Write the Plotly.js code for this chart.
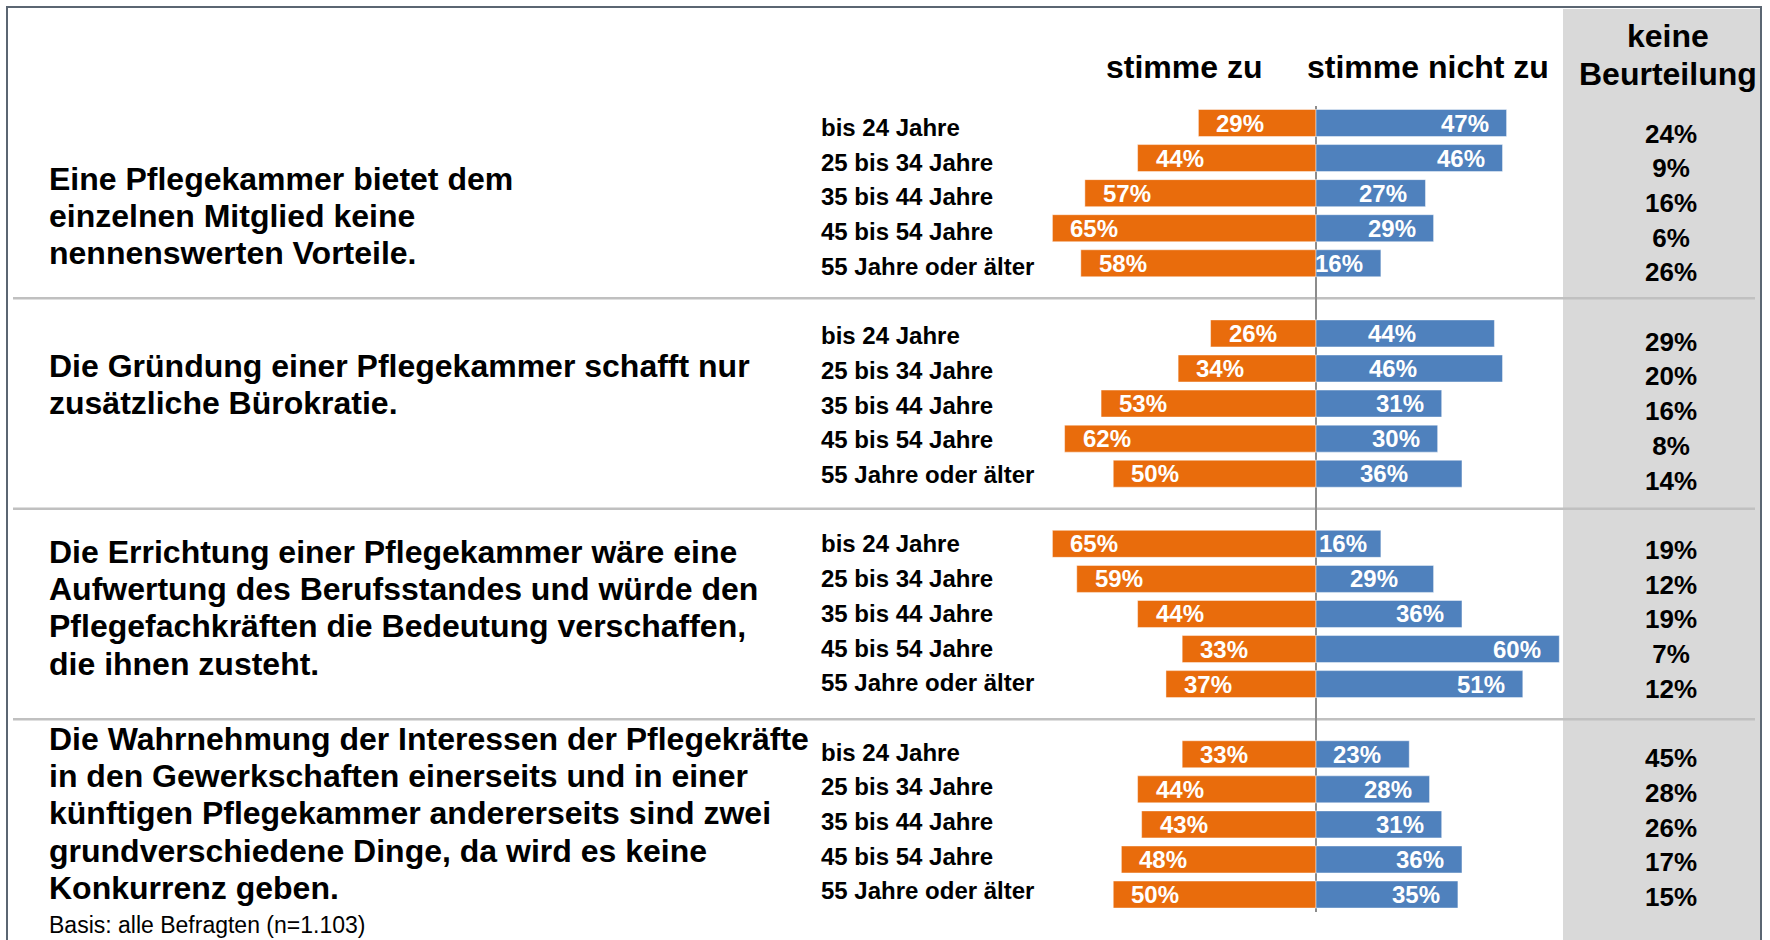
<!DOCTYPE html>
<html>
<head>
<meta charset="utf-8">
<script src="https://cdn.plot.ly/plotly-3.0.1.min.js"></script>
<style>html,body{margin:0;padding:0;background:#fff;}#chart{width:1770px;height:940px;}</style>
</head>
<body>
<div id="chart"></div>
<script>
// ---------- DATA ----------
const ageGroups = ['bis 24 Jahre', '25 bis 34 Jahre', '35 bis 44 Jahre', '45 bis 54 Jahre', '55 Jahre oder älter'];
const statements = [
  ['Eine Pflegekammer bietet dem', 'einzelnen Mitglied keine', 'nennenswerten Vorteile.'],
  ['Die Gründung einer Pflegekammer schafft nur', 'zusätzliche Bürokratie.'],
  ['Die Errichtung einer Pflegekammer wäre eine', 'Aufwertung des Berufsstandes und würde den', 'Pflegefachkräften die Bedeutung verschaffen,', 'die ihnen zusteht.'],
  ['Die Wahrnehmung der Interessen der Pflegekräfte', 'in den Gewerkschaften einerseits und in einer', 'künftigen Pflegekammer andererseits sind zwei', 'grundverschiedene Dinge, da wird es keine', 'Konkurrenz geben.']
];
const stimmeZu = [
  [29, 44, 57, 65, 58],
  [26, 34, 53, 62, 50],
  [65, 59, 44, 33, 37],
  [33, 44, 43, 48, 50]
];
const stimmeNichtZu = [
  [47, 46, 27, 29, 16],
  [44, 46, 31, 30, 36],
  [16, 29, 36, 60, 51],
  [23, 28, 31, 36, 35]
];
const keineBeurteilung = [
  [24, 9, 16, 6, 26],
  [29, 20, 16, 8, 14],
  [19, 12, 19, 7, 12],
  [45, 28, 26, 17, 15]
];
const headerZu = 'stimme zu';
const headerNicht = 'stimme nicht zu';
const headerKeine = ['keine', 'Beurteilung'];
const footnote = 'Basis: alle Befragten (n=1.103)';

// ---------- LAYOUT HELPERS ----------
const W = 1770, H = 940;
const px = v => v / W;
const py = v => 1 - v / H;
const FONT = 'Liberation Sans, Arial, Helvetica, sans-serif';
const ORANGE = '#E96C0C', BLUE = '#4F81BD';
const GROUP_STRIDE = ageGroups.length + 1;   // one empty slot between groups

// label nudges for blue value labels (pixel shift from bar end), default -16
const blueNudge = {'1-0': -76, '1-1': -84, '1-4': -52, '2-0': -12, '2-1': -34, '3-0': -26};

const yPos = [], zu = [], nicht = [], keine = [], cat = [];
statements.forEach((s, g) => {
  ageGroups.forEach((a, r) => {
    yPos.push(g * GROUP_STRIDE + r);
    zu.push(-stimmeZu[g][r]);
    nicht.push(stimmeNichtZu[g][r]);
    keine.push(keineBeurteilung[g][r] + '%');
    cat.push('keine Beurteilung');
  });
});

const barLine = {color: 'rgba(255,255,255,0.45)', width: 1};
const traces = [
  {type: 'bar', orientation: 'h', x: zu, y: yPos, width: 0.77,
   marker: {color: ORANGE, line: barLine}, hoverinfo: 'skip', xaxis: 'x', yaxis: 'y'},
  {type: 'bar', orientation: 'h', x: nicht, y: yPos, width: 0.77,
   marker: {color: BLUE, line: barLine}, hoverinfo: 'skip', xaxis: 'x', yaxis: 'y'},
  {type: 'scatter', mode: 'text', x: cat, y: yPos, text: keine,
   textposition: 'middle center', cliponaxis: false,
   textfont: {family: FONT, size: 26, color: '#000', weight: 'bold'},
   hoverinfo: 'skip', xaxis: 'x2', yaxis: 'y2'}
];

const annotations = [];
// bar value labels
statements.forEach((s, g) => {
  ageGroups.forEach((a, r) => {
    const k = g * GROUP_STRIDE + r;
    annotations.push({xref: 'x', yref: 'y', x: -stimmeZu[g][r], y: k, xanchor: 'left', yanchor: 'middle',
      xshift: 16, showarrow: false, text: stimmeZu[g][r] + '%',
      font: {family: FONT, size: 24, color: '#fff', weight: 'bold'}});
    const nk = blueNudge[g + '-' + r];
    annotations.push({xref: 'x', yref: 'y', x: stimmeNichtZu[g][r], y: k, xanchor: 'right', yanchor: 'middle',
      xshift: nk === undefined ? -16 : nk, showarrow: false, text: stimmeNichtZu[g][r] + '%',
      font: {family: FONT, size: 24, color: '#fff', weight: 'bold'}});
    // row label
    annotations.push({xref: 'paper', yref: 'y2', x: px(819), y: k, xanchor: 'left', yanchor: 'middle',
      yshift: 8.5, showarrow: false, text: a,
      font: {family: FONT, size: 24, color: '#000', weight: 'bold'}});
  });
});
// statements
const stmtTop = [178.6, 365.6, 551.6, 738.6];
const stmtLine = 37.3;
statements.forEach((lines, g) => {
  lines.forEach((t, i) => {
    annotations.push({xref: 'paper', yref: 'paper', x: px(47), y: py(stmtTop[g] + i * stmtLine),
      xanchor: 'left', yanchor: 'middle', showarrow: false, text: t,
      font: {family: FONT, size: 32, color: '#000', weight: 'bold'}});
  });
});
// headers
annotations.push({xref: 'paper', yref: 'paper', x: px(1183.5), y: py(67), xanchor: 'center', yanchor: 'middle',
  showarrow: false, text: headerZu, font: {family: FONT, size: 32, color: '#000', weight: 'bold'}});
annotations.push({xref: 'paper', yref: 'paper', x: px(1428), y: py(67), xanchor: 'center', yanchor: 'middle',
  showarrow: false, text: headerNicht, font: {family: FONT, size: 32, color: '#000', weight: 'bold'}});
headerKeine.forEach((t, i) => {
  annotations.push({xref: 'paper', yref: 'paper', x: px(1668), y: py(36.3 + i * 38), xanchor: 'center', yanchor: 'middle',
    showarrow: false, text: t, font: {family: FONT, size: 32, color: '#000', weight: 'bold'}});
});
annotations.push({xref: 'paper', yref: 'paper', x: px(47), y: py(925), xanchor: 'left', yanchor: 'middle',
  showarrow: false, text: footnote, font: {family: FONT, size: 23, color: '#000'}});

const shapes = [
  {type: 'rect', xref: 'paper', yref: 'paper', x0: px(1563), x1: px(1760), y0: -0.02, y1: py(9),
   fillcolor: '#D9D9D9', line: {width: 0}, layer: 'below'}
];
for (let g = 1; g < statements.length; g++) {
  const ySep = g * GROUP_STRIDE - 1;
  shapes.push({type: 'line', xref: 'paper', yref: 'y', x0: px(13), x1: px(1755), y0: ySep, y1: ySep,
    line: {color: '#C0C0C0', width: 2.5}, layer: 'below'});
}
shapes.push({type: 'rect', xref: 'paper', yref: 'paper', x0: px(7), x1: px(1761), y0: -0.05, y1: py(7),
  line: {color: '#5B6672', width: 2}, fillcolor: 'rgba(0,0,0,0)', layer: 'above'});

const layout = {
  width: W, height: H,
  margin: {l: 0, r: 0, t: 0, b: 0, pad: 0},
  paper_bgcolor: '#fff', plot_bgcolor: 'rgba(0,0,0,0)',
  showlegend: false, hovermode: false, barmode: 'relative',
  font: {family: FONT},
  xaxis: {domain: [px(820), px(1563)], range: [(820 - 1316) / 4.055, (1563 - 1316) / 4.055],
    showticklabels: false, showgrid: false, ticks: '', zeroline: true, zerolinecolor: '#8C8C8C',
    zerolinewidth: 2, layer: 'above traces', fixedrange: true, anchor: 'y'},
  yaxis: {domain: [py(912), py(106)], range: [(912 - 123) / 35.07, (106 - 123) / 35.07],
    showticklabels: false, showgrid: false, zeroline: false, ticks: '', fixedrange: true, anchor: 'x'},
  xaxis2: {domain: [px(1582), px(1760)], type: 'category', showticklabels: false, showgrid: false,
    zeroline: false, ticks: '', fixedrange: true, anchor: 'y2'},
  yaxis2: {domain: [0, 1], range: [(940 - 136) / 34.7, -136 / 34.7], showticklabels: false,
    showgrid: false, zeroline: false, ticks: '', fixedrange: true, anchor: 'x2'},
  annotations: annotations,
  shapes: shapes
};

Plotly.newPlot('chart', traces, layout, {staticPlot: true, displayModeBar: false});
</script>
</body>
</html>
